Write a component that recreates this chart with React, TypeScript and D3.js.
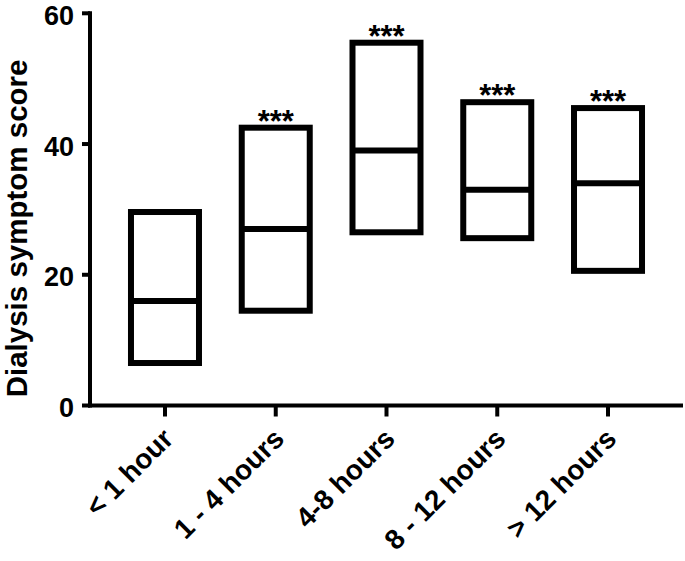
import React from "react";
import * as d3 from "d3";

const categories = ["< 1 hour", "1 - 4 hours", "4-8 hours", "8 - 12 hours", "> 12 hours"];
const minValues = [6.5, 14.5, 26.5, 25.6, 20.6];
const medianValues = [16, 27, 39, 33, 34];
const maxValues = [29.6, 42.5, 55.5, 46.4, 45.5];
const significance = ["", "***", "***", "***", "***"];
const yTicks = [0, 20, 40, 60];
const yLabel = "Dialysis symptom score";

const W = 685;
const H = 561;
const FONT = "'Liberation Sans', Arial, Helvetica, sans-serif";

export default function App() {
  const axisX = 90;
  const axisY = 405.5;
  const y = d3.scaleLinear().domain([0, 60]).range([axisY, 13.3]);
  const x = d3.scalePoint<string>().domain(categories).range([axisX, 683]).padding(0.677);
  const boxW = x.step() * 0.614;
  const sw = 6;

  return (
    <div style={{ position: "absolute", left: 0, top: 0 }}>
      <svg width={W} height={H} viewBox={`0 0 ${W} ${H}`} style={{ display: "block", background: "#fff" }}>
        {categories.map((c, i) => {
          const cx = x(c)!;
          const top = y(maxValues[i]);
          const bot = y(minValues[i]);
          const med = y(medianValues[i]);
          return (
            <g key={c}>
              <rect x={cx - boxW / 2} y={top} width={boxW} height={bot - top} fill="none" stroke="#000" strokeWidth={sw} />
              <line x1={cx - boxW / 2} x2={cx + boxW / 2} y1={med} y2={med} stroke="#000" strokeWidth={sw} />
              {significance[i] && (
                <text x={cx} y={top + 4} textAnchor="middle" fontFamily={FONT} fontWeight="bold" fontSize={31} fill="#000">
                  {significance[i]}
                </text>
              )}
            </g>
          );
        })}
        <line x1={axisX} x2={axisX} y1={y(60) - 2} y2={axisY + 2} stroke="#000" strokeWidth={4} />
        {yTicks.map((t) => (
          <g key={t}>
            <line x1={axisX - 8} x2={axisX} y1={y(t)} y2={y(t)} stroke="#000" strokeWidth={4} />
            <text x={74} y={y(t) + 11.5} textAnchor="end" fontFamily={FONT} fontWeight="bold" fontSize={27} fill="#000">
              {t}
            </text>
          </g>
        ))}
        <line x1={axisX - 2} x2={683} y1={axisY} y2={axisY} stroke="#000" strokeWidth={4} />
        {categories.map((c) => (
          <g key={c}>
            <line x1={x(c)!} x2={x(c)!} y1={axisY} y2={axisY + 11} stroke="#000" strokeWidth={4} />
            <text
              transform={`translate(${x(c)! + 3},${axisY + 28}) rotate(-45)`}
              textAnchor="end"
              fontFamily={FONT}
              fontWeight="bold"
              fontSize={28}
              dy="0.35em"
              fill="#000"
            >
              {c}
            </text>
          </g>
        ))}
        <text
          transform={`translate(27,${(y(0) + y(60)) / 2 + 19}) rotate(-90)`}
          textAnchor="middle"
          fontFamily={FONT}
          fontWeight="bold"
          fontSize={29.5}
          fill="#000"
        >
          {yLabel}
        </text>
      </svg>
    </div>
  );
}
